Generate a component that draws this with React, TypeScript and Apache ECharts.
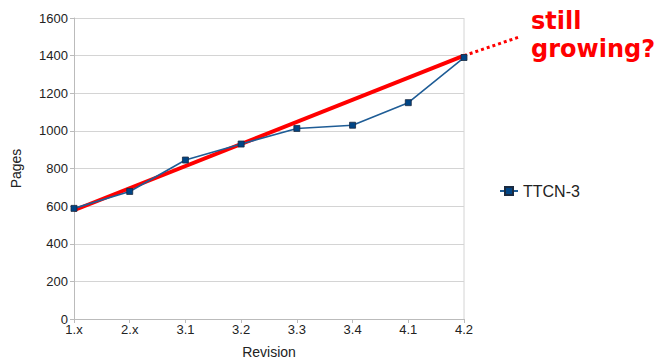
import React, { useEffect, useRef } from "react";
import * as echarts from "echarts";

const categories = ["1.x", "2.x", "3.1", "3.2", "3.3", "3.4", "4.1", "4.2"];
const pages = [588, 678, 845, 930, 1013, 1030, 1150, 1390];
const trendSolid = [
  [0, 578],
  [7, 1400],
];
const trendDotted = [
  [7, 1400],
  [8, 1500],
];
const yTicks = { min: 0, max: 1600, interval: 200 };

export default function App() {
  const ref = useRef<HTMLDivElement>(null);
  useEffect(() => {
    if (!ref.current) return;
    const chart = echarts.init(ref.current, undefined, { renderer: "svg" });
    const font = "Liberation Sans, Arial, sans-serif";
    const plotW = 390;
    chart.setOption({
      animation: false,
      grid: [
        { left: 74, width: plotW, top: 18, bottom: 42, containLabel: false, outerBoundsMode: "none" },
        { left: 74, width: (plotW * 8) / 7, top: 18, bottom: 42, containLabel: false, outerBoundsMode: "none" },
      ],
      legend: {
        data: ["TTCN-3"],
        left: 494,
        top: 178,
        itemWidth: 18,
        itemHeight: 10,
        itemGap: 4,
        textStyle: { fontFamily: font, fontSize: 16, color: "#222" },
      },
      xAxis: [
        {
          type: "category",
          gridIndex: 0,
          data: categories,
          boundaryGap: false,
          name: "Revision",
          nameLocation: "middle",
          nameGap: 26,
          nameTextStyle: { fontFamily: font, fontSize: 14, color: "#222" },
          axisLine: { lineStyle: { color: "#bbb" } },
          axisTick: { show: true, length: 4, lineStyle: { color: "#bbb" } },
          axisLabel: { fontFamily: font, fontSize: 13, color: "#222", margin: 4 },
          splitLine: { show: false },
        },
        { type: "value", gridIndex: 0, min: 0, max: 7, show: false },
        { type: "value", gridIndex: 1, min: 0, max: 8, show: false },
      ],
      yAxis: [
        {
          type: "value",
          gridIndex: 0,
          min: yTicks.min,
          max: yTicks.max,
          interval: yTicks.interval,
          name: "Pages",
          nameLocation: "middle",
          nameGap: 51,
          nameTextStyle: { fontFamily: font, fontSize: 14, color: "#222" },
          axisLine: { show: true, lineStyle: { color: "#bbb" } },
          axisTick: { show: true, length: 4, lineStyle: { color: "#bbb" } },
          axisLabel: {
            fontFamily: font,
            fontSize: 13,
            color: "#222",
            margin: 6,
            formatter: (v: number) => String(v),
          },
          splitLine: { show: true, lineStyle: { color: "#d4d4d4" } },
        },
        { type: "value", gridIndex: 1, min: yTicks.min, max: yTicks.max, show: false, splitLine: { show: false } },
      ],
      graphic: [
        {
          type: "line",
          shape: { x1: 464, y1: 18, x2: 464, y2: 319 },
          style: { stroke: "#d4d4d4", lineWidth: 1 },
        },
        {
          type: "text",
          left: 531,
          top: 7,
          style: {
            text: "still\ngrowing?",
            fill: "#ff0000",
            fontFamily: "DejaVu Sans, sans-serif",
            fontWeight: "bold",
            fontSize: 24,
            lineHeight: 28,
          },
        },
      ],
      series: [
        {
          name: "TTCN-3",
          type: "line",
          data: pages,
          symbol: "rect",
          symbolSize: 6,
          showSymbol: true,
          itemStyle: { color: "#004586", borderColor: "#1a2a40", borderWidth: 0.8 },
          lineStyle: { color: "#1f5d96", width: 1.6 },
          z: 3,
        },
        {
          name: "trend",
          type: "line",
          xAxisIndex: 1,
          yAxisIndex: 0,
          data: trendSolid,
          symbol: "none",
          lineStyle: { color: "#ff0000", width: 4 },
          z: 2,
        },
        {
          name: "trendDotted",
          type: "line",
          xAxisIndex: 2,
          yAxisIndex: 1,
          data: trendDotted,
          symbol: "none",
          lineStyle: { color: "#ff0000", width: 3, type: [3, 3] },
          z: 2,
        },
      ],
    });
    return () => chart.dispose();
  }, []);
  return <div ref={ref} style={{ width: 660, height: 361, position: "absolute", left: 0, top: 0 }} />;
}
